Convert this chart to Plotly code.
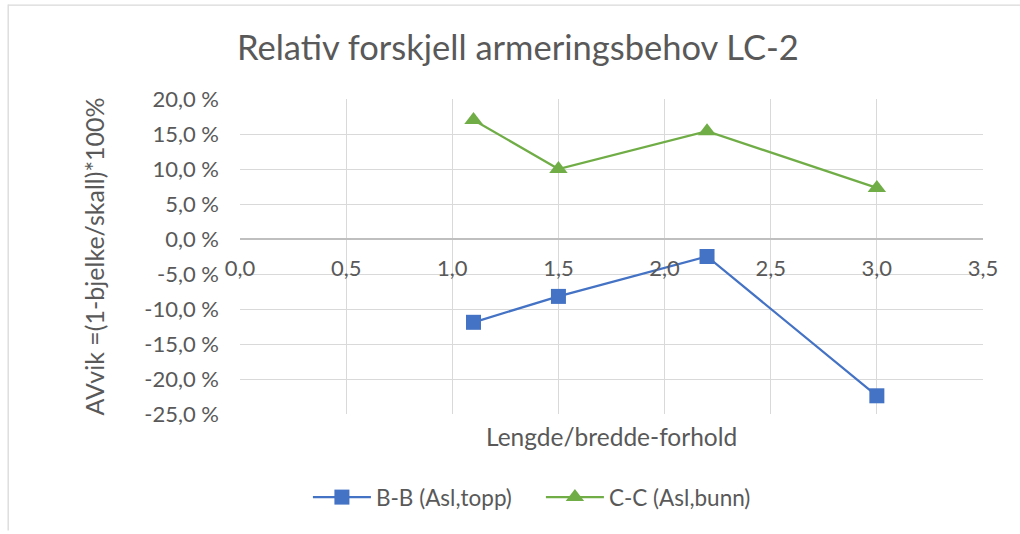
import plotly.graph_objects as go

# Length/width ratio of the slab and deviation (%) between beam and shell models
ratio = [1.1, 1.5, 2.2, 3.0]
bb_topp = [-11.9, -8.2, -2.5, -22.4]
cc_bunn = [17.0, 10.0, 15.4, 7.3]

y_ticks = [20, 15, 10, 5, 0, -5, -10, -15, -20, -25]
y_ticktext = ["20,0 %", "15,0 %", "10,0 %", "5,0 %", "0,0 %",
              "-5,0 %", "-10,0 %", "-15,0 %", "-20,0 %", "-25,0 %"]
x_ticks = [0.0, 0.5, 1.0, 1.5, 2.0, 2.5, 3.0, 3.5]
x_ticktext = ["0,0", "0,5", "1,0", "1,5", "2,0", "2,5", "3,0", "3,5"]

FONT = "Lato"
GREY = "#595959"
GRID = "#d9d9d9"

fig = go.Figure()
fig.add_trace(go.Scatter(
    x=ratio, y=bb_topp, mode="lines+markers", name="B-B (Asl,topp)",
    line=dict(color="#4472C4", width=2.25),
    marker=dict(symbol="square", size=15, color="#4472C4"),
))
fig.add_trace(go.Scatter(
    x=ratio, y=cc_bunn, mode="lines+markers", name="C-C (Asl,bunn)",
    line=dict(color="#70AD47", width=2.25),
    marker=dict(symbol="triangle-up", size=16, color="#70AD47"),
))

y_min, y_max = -25, 20
# the category axis crosses the value axis at 0
cross = (0 - y_min) / (y_max - y_min)

fig.update_layout(
    width=1020, height=534,
    margin=dict(l=240, r=37, t=99, b=120),
    paper_bgcolor="white", plot_bgcolor="white",
    font=dict(family=FONT, color=GREY, size=22),
    title=dict(text="Relativ forskjell armeringsbehov LC-2",
               x=0.374, xanchor="center", y=0.91, yanchor="middle",
               xref="paper",
               font=dict(size=34.5, color=GREY, family=FONT)),
    showlegend=True,
    legend=dict(orientation="h", x=0.405, xanchor="center", y=-0.265, yanchor="middle",
                font=dict(size=22.5, color=GREY), itemwidth=58, tracegroupgap=0,
                entrywidth=160, entrywidthmode="pixels"),
    xaxis=dict(range=[0, 3.5], tickvals=x_ticks, ticktext=x_ticktext,
               showgrid=True, gridcolor=GRID, gridwidth=1.3,
               anchor="free", position=cross,
               showline=True, linecolor="#bfbfbf", linewidth=1.5,
               ticks="", ticklabelstandoff=10,
               tickfont=dict(size=22, color=GREY),
               zeroline=False, mirror=False),
    yaxis=dict(range=[y_min, y_max], tickvals=y_ticks, ticktext=y_ticktext,
               showgrid=True, gridcolor=GRID, gridwidth=1.3,
               zeroline=False, showline=False, ticks="",
               ticklabelstandoff=20,
               tickfont=dict(size=22, color=GREY),
               title=dict(text="AVvik =(1-bjelke/skall)*100%",
                          font=dict(size=25, color=GREY), standoff=32)),
    annotations=[dict(text="Lengde/bredde-forhold", xref="paper", yref="paper",
                      x=0.5, y=-0.073, showarrow=False, xanchor="center",
                      yanchor="middle", font=dict(size=24.5, color=GREY))],
    shapes=[
        dict(type="line", xref="paper", yref="paper", x0=-0.312, x1=-0.312,
             y0=-0.37, y1=1.3, line=dict(color=GRID, width=1.3)),
        dict(type="line", xref="paper", yref="paper", x0=-0.312, x1=1.06,
             y0=1.298, y1=1.298, line=dict(color=GRID, width=1.3)),
    ],
)

fig.write_html("out.html")
